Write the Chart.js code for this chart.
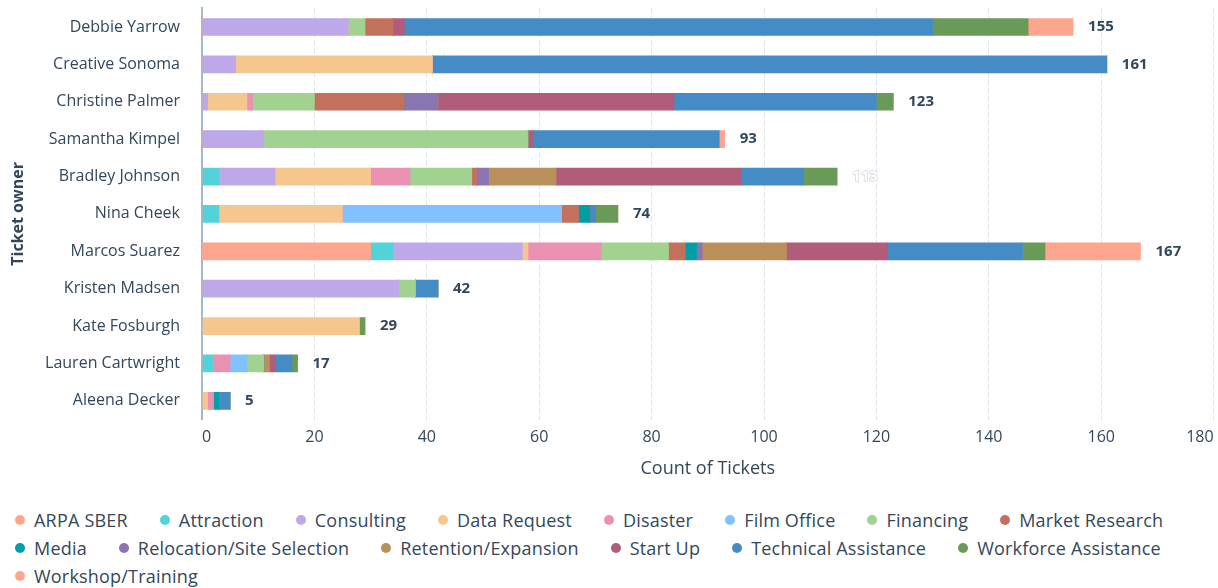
<!DOCTYPE html>
<html><head><meta charset="utf-8">
<script src="https://cdn.jsdelivr.net/npm/chart.js@4.4.1/dist/chart.umd.min.js"></script>
<style>
html,body{margin:0;padding:0;background:#fff;}
#wrap{position:relative;width:1218px;height:496px;}
#legend{position:absolute;left:15px;top:506px;width:1200px;font:18px 'Open Sans',sans-serif;letter-spacing:0.2px;color:#33475b;}
.row{display:flex;height:28px;align-items:center;}
.item{display:flex;align-items:center;margin-right:32px;white-space:nowrap;}
.dot{width:10px;height:10px;border-radius:50%;margin-right:9px;flex:none;}
</style></head><body>
<div id="wrap"><canvas id="c"></canvas></div>
<div id="legend"></div>
<script>
// ---- data ----
const categories = ['Debbie Yarrow','Creative Sonoma','Christine Palmer','Samantha Kimpel','Bradley Johnson','Nina Cheek','Marcos Suarez','Kristen Madsen','Kate Fosburgh','Lauren Cartwright','Aleena Decker'];
const seriesNames = ['ARPA SBER','Attraction','Consulting','Data Request','Disaster','Film Office','Financing','Market Research','Media','Relocation/Site Selection','Retention/Expansion','Start Up','Technical Assistance','Workforce Assistance','Workshop/Training'];
const arpaSber            = [0,0,0,0,0,0,30,0,0,0,0];
const attraction          = [0,0,0,0,3,3,4,0,0,2,0];
const consulting          = [26,6,1,11,10,0,23,35,0,0,0];
const dataRequest         = [0,35,7,0,17,22,1,0,28,0,1];
const disaster            = [0,0,1,0,7,0,13,0,0,3,1];
const filmOffice          = [0,0,0,0,0,39,0,0,0,3,0];
const financing           = [3,0,11,47,11,0,12,3,0,3,0];
const marketResearch      = [5,0,16,0,1,3,3,0,0,0,0];
const media               = [0,0,0,0,0,2,2,0,0,0,1];
const relocation          = [0,0,6,0,2,0,1,0,0,0,0];
const retention           = [0,0,0,0,12,0,15,0,0,1,0];
const startUp             = [2,0,42,1,33,0,18,0,0,1,0];
const technicalAssistance = [94,120,36,33,11,1,24,4,0,3,2];
const workforceAssistance = [17,0,3,0,6,4,4,0,1,1,0];
const workshopTraining    = [8,0,0,1,0,0,17,0,0,0,0];
const xTickStep = 20, xMax = 180;

// ---- style ----
const seriesValues = [arpaSber,attraction,consulting,dataRequest,disaster,filmOffice,financing,marketResearch,media,relocation,retention,startUp,technicalAssistance,workforceAssistance,workshopTraining];
const seriesColors = ['#fea58e','#51d3d9','#bda9ea','#f5c78e','#ea90b1','#81c1fd','#a2d28f','#c3705c','#009fa6','#8a75b3','#b9905a','#b05c7a','#458bc5','#6a9a58','#fea58e'];
const FONT = "'Open Sans', sans-serif";
const TEXT = '#33475b';
const ghostLabelOwner = 'Bradley Johnson';
const legendRowBreaks = [8, 14];

const totalsPlugin = {
  id: 'totals',
  afterDatasetsDraw(chart) {
    const {ctx, scales: {x, y}} = chart;
    ctx.save();
    ctx.font = `bold 15px ${FONT}`;
    ctx.textBaseline = 'middle';
    ctx.textAlign = 'left';
    categories.forEach((c, i) => {
      const total = chart.data.datasets.reduce((s, d) => s + (d.data[i] || 0), 0);
      const px = x.getPixelForValue(total) + 15;
      const py = y.getPixelForValue(i);
      if (c === ghostLabelOwner) {
        ctx.lineWidth = 1.5; ctx.strokeStyle = '#d3d9e1';
        ctx.strokeText(String(total), px, py);
        ctx.fillStyle = '#ffffff';
        ctx.fillText(String(total), px, py);
      } else {
        ctx.fillStyle = TEXT;
        ctx.fillText(String(total), px, py);
      }
    });
    ctx.restore();
  }
};

new Chart(document.getElementById('c'), {
  type: 'bar',
  data: {
    labels: categories,
    datasets: seriesNames.map((n, k) => ({
      label: n, data: seriesValues[k], backgroundColor: seriesColors[k],
      borderWidth: 0, barThickness: 17
    }))
  },
  options: {
    indexAxis: 'y',
    responsive: true, maintainAspectRatio: false, animation: false,
    layout: {padding: {top: 8.35, right: 4.4, left: 0, bottom: 0}},
    plugins: {legend: {display: false}, tooltip: {enabled: false}},
    scales: {
      x: {
        stacked: true, min: 0, max: xMax,
        ticks: {stepSize: xTickStep, align: 'inner', padding: 8.25, color: TEXT, font: {size: 16, family: FONT}},
        grid: {color: '#dfe3eb', lineWidth: 1, drawTicks: false},
        border: {display: false, dash: [5, 3]},
        title: {display: true, text: 'Count of Tickets', color: TEXT, font: {size: 18, family: FONT}, padding: {top: 2.8, bottom: 16.4}},
        afterFit(s) { s.paddingLeft = 0; s.paddingRight = 0; }
      },
      y: {
        stacked: true,
        grid: {display: false, drawTicks: false},
        border: {display: true, color: '#a5b7cb', width: 2},
        ticks: {padding: 22, color: TEXT, font: {size: 16, family: FONT}},
        title: {display: true, text: 'Ticket owner', color: TEXT, font: {size: 16, family: FONT, weight: 'bold'}, padding: {top: 8.4, bottom: 0}},
        afterFit(s) { s.width = 202; s.paddingTop = 0; s.paddingBottom = 0; }
      }
    }
  },
  plugins: [totalsPlugin]
});

// HTML legend
const legend = document.getElementById('legend');
let start = 0;
[...legendRowBreaks, seriesNames.length].forEach(end => {
  const row = document.createElement('div'); row.className = 'row';
  for (let k = start; k < end; k++) {
    const it = document.createElement('div'); it.className = 'item';
    const dot = document.createElement('span'); dot.className = 'dot'; dot.style.background = seriesColors[k];
    const t = document.createElement('span'); t.textContent = seriesNames[k];
    it.appendChild(dot); it.appendChild(t); row.appendChild(it);
  }
  legend.appendChild(row);
  start = end;
});
</script>
</body></html>
